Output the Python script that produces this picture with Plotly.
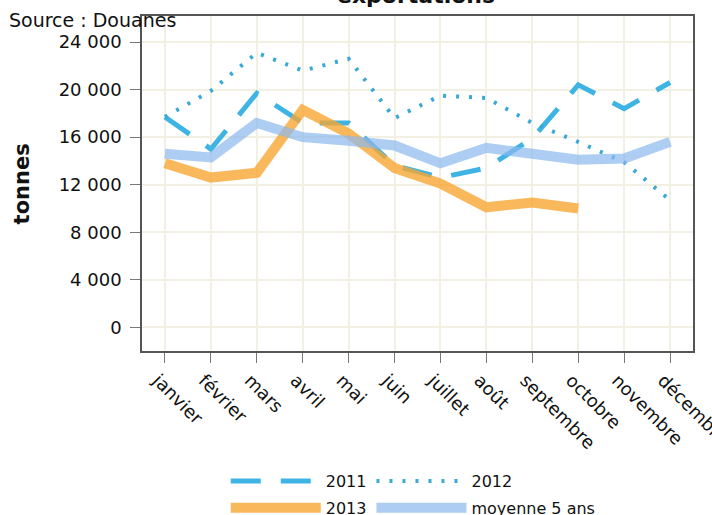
import plotly.graph_objects as go

# exportations mensuelles (tonnes), source Douanes
mois = ["janvier", "février", "mars", "avril", "mai", "juin", "juillet",
        "août", "septembre", "octobre", "novembre", "décembre"]
y2011 = [17700, 15000, 19700, 17200, 17200, 13600, 12600, 13400, 15900, 20400, 18400, 20600]
y2012 = [17700, 19900, 23100, 21600, 22600, 17600, 19500, 19300, 17200, 15600, 13900, 10700]
y2013 = [13800, 12600, 13000, 18300, 16300, 13400, 12100, 10100, 10500, 10000]
moyenne = [14600, 14300, 17200, 16000, 15700, 15300, 13800, 15100, 14600, 14100, 14200, 15600]

ytick_vals = [0, 4000, 8000, 12000, 16000, 20000, 24000]
ytick_text = ["0", "4 000", "8 000", "12 000", "16 000", "20 000", "24 000"]

fig = go.Figure()
fig.add_trace(go.Scatter(x=mois, y=y2011, name="2011", mode="lines", legend="legend",
                         line=dict(color="rgb(62,180,228)", width=5, dash="30px,20px")))
fig.add_trace(go.Scatter(x=mois, y=y2012, name="2012", mode="lines", legend="legend",
                         line=dict(color="rgb(58,168,214)", width=4, dash="3px,10px")))
fig.add_trace(go.Scatter(x=mois[:len(y2013)], y=y2013, name="2013", mode="lines", legend="legend2",
                         line=dict(color="rgba(247,166,50,0.8)", width=10)))
fig.add_trace(go.Scatter(x=mois, y=moyenne, name="moyenne 5 ans", mode="lines", legend="legend2",
                         line=dict(color="rgba(140,184,238,0.7)", width=10)))

axis_common = dict(showline=True, linecolor="#555", linewidth=1.5, mirror=True,
                   ticks="outside", ticklen=10, tickcolor="#777",
                   showgrid=True, gridcolor="rgb(242,240,226)", gridwidth=1.5,
                   zeroline=False, automargin=False,
                   tickfont=dict(size=18, color="#111"))

legend_common = dict(orientation="h", x=0.152, xanchor="left", yanchor="bottom",
                     itemwidth=90, font=dict(size=16), bgcolor="rgba(0,0,0,0)")

fig.update_layout(
    width=712, height=515,
    margin=dict(l=142, r=19, t=16, b=164, autoexpand=False),
    paper_bgcolor="white", plot_bgcolor="white",
    font=dict(family="DejaVu Sans", color="#111"),
    showlegend=True,
    legend=dict(legend_common, y=-0.439),
    legend2=dict(legend_common, y=-0.519),
    xaxis=dict(axis_common, tickangle=45, range=[-0.5, 11.5], ticklabelshift=-7),
    yaxis=dict(axis_common, range=[-2000, 26200], tickvals=ytick_vals, ticktext=ytick_text,
               ticklabelstandoff=5),
    annotations=[
        dict(text="<b>exportations</b>", xref="paper", yref="paper", x=0.498, y=1.018,
             xanchor="center", yanchor="bottom", showarrow=False, font=dict(size=22)),
        dict(text="Source : Douanes", xref="paper", yref="paper", x=-0.245, y=0.988,
             xanchor="left", yanchor="middle", showarrow=False, font=dict(size=19)),
        dict(text="<b>tonnes</b>", xref="paper", yref="paper", x=-0.218, y=0.5,
             xanchor="center", yanchor="middle", textangle=-90, showarrow=False,
             font=dict(size=21)),
    ],
)

# pas de marge par défaut du navigateur autour du graphique
fig.write_html("out.html", config={"displayModeBar": False},
               post_script="document.body.style.margin='0';")
